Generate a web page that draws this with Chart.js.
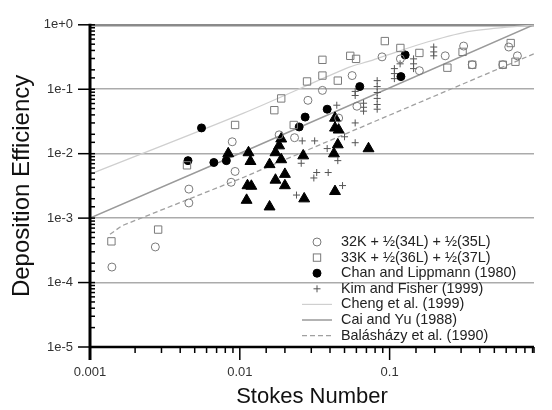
<!DOCTYPE html>
<html>
<head>
<meta charset="utf-8">
<script src="https://cdn.jsdelivr.net/npm/chart.js@4.4.1/dist/chart.umd.min.js"></script>
<style>
body { margin: 0; background: #fff; }
#wrap { width: 552px; height: 410px; position: relative; }
</style>
</head>
<body>
<div id="wrap"><canvas id="chartDep"></canvas></div>
<script>
// 32K + ½(34L) + ½(35L)  (open circles)
const stCirc = [0.0014, 0.00273, 0.00457, 0.00457, 0.0089, 0.0093, 0.00875, 0.0183, 0.0232, 0.0285, 0.0356, 0.0457, 0.0562, 0.0605, 0.089, 0.118, 0.158, 0.235, 0.312, 0.356, 0.57, 0.624, 0.713]
const deCirc = [1.74e-4, 3.57e-4, 2.82e-3, 1.72e-3, 0.0153, 0.0053, 0.0036, 0.0196, 0.0177, 0.0673, 0.096, 0.0357, 0.163, 0.0545, 0.318, 0.296, 0.194, 0.33, 0.468, 0.24, 0.24, 0.452, 0.33]

// 33K + ½(36L) + ½(37L)  (open squares)
const stSq = [0.00139, 0.00285, 0.00444, 0.0093, 0.017, 0.0189, 0.0229, 0.0281, 0.0356, 0.0356, 0.0451, 0.0546, 0.0597, 0.0929, 0.118, 0.158, 0.243, 0.307, 0.356, 0.57, 0.643, 0.692]
const deSq = [4.36e-4, 6.64e-4, 6.6e-3, 0.0279, 0.0473, 0.072, 0.0279, 0.132, 0.163, 0.286, 0.136, 0.33, 0.296, 0.559, 0.437, 0.366, 0.216, 0.38, 0.24, 0.24, 0.521, 0.267]

// Chan and Lippmann (1980)
const stChan = [0.00451, 0.00555, 0.00671, 0.00813, 0.0249, 0.0273, 0.0383, 0.0632, 0.119, 0.127]
const deChan = [0.0078, 0.0251, 0.0073, 0.0078, 0.026, 0.037, 0.049, 0.11, 0.157, 0.341]

// Kim and Fisher (1999)
const stKim = [0.0239, 0.0257, 0.0261, 0.0316, 0.0326, 0.0389, 0.0312, 0.0383, 0.0451, 0.0485, 0.05, 0.0589, 0.0589, 0.0444, 0.0589, 0.0589, 0.067, 0.067, 0.067, 0.0826, 0.0826, 0.0826, 0.0826, 0.0826, 0.0826, 0.1076, 0.1076, 0.1076, 0.1175, 0.1445, 0.1445, 0.1445, 0.197, 0.197, 0.197]
const deKim = [0.00228, 0.0071, 0.0158, 0.0158, 0.0051, 0.0051, 0.0042, 0.012, 0.0078, 0.0032, 0.0183, 0.0148, 0.030, 0.0565, 0.0925, 0.080, 0.0607, 0.0525, 0.0457, 0.136, 0.110, 0.089, 0.072, 0.058, 0.049, 0.209, 0.175, 0.146, 0.248, 0.296, 0.248, 0.209, 0.452, 0.38, 0.33]

// unlabelled triangles
const stTri = [0.00837, 0.01143, 0.01178, 0.01125, 0.01194, 0.0111, 0.0158, 0.0158, 0.0173, 0.0183, 0.0189, 0.0189, 0.0173, 0.02, 0.02, 0.0265, 0.0269, 0.0432, 0.0425, 0.0451, 0.0432, 0.0432, 0.0457, 0.0723]
const deTri = [0.01004, 0.0104, 0.0076, 0.0032, 0.00314, 0.0019, 0.0015, 0.0068, 0.0104, 0.0133, 0.017, 0.0081, 0.0039, 0.0048, 0.0032, 0.0093, 0.0020, 0.0026, 0.01, 0.0138, 0.0357, 0.0251, 0.0234, 0.012]

// model curves
const stCheng = [0.001, 0.0106, 0.0538, 0.0723, 0.093, 0.183, 0.35, 0.92]
const deCheng = [0.0048, 0.0426, 0.22, 0.27, 0.33, 0.55, 0.8, 1.0]
const stCai = [0.001, 0.0106, 0.92]
const deCai = [0.001, 0.0107, 1.0]
const stBal = [0.00136, 0.00163, 0.0106, 0.0837, 0.92]
const deBal = [5.6e-4, 7.6e-4, 0.0043, 0.0333, 0.355]

const pts = (xs, ys) => xs.map((x, i) => ({ x: x, y: ys[i] }))
const isDecade = v => Math.abs(Math.log10(v) - Math.round(Math.log10(v))) < 1e-6
const FONT = '"Liberation Sans", Arial, sans-serif'

const axesPlugin = {
    id: 'axesPlugin',
    afterDraw(chart) {
        const ctx = chart.ctx
        const { left, right, top, bottom } = chart.chartArea
        const xs = chart.scales.x
        const ys = chart.scales.y
        ctx.save()
        ctx.strokeStyle = '#000'
        ys.ticks.forEach(t => {
            const py = ys.getPixelForValue(t.value)
            ctx.lineWidth = 1.5
            ctx.beginPath()
            if (isDecade(t.value)) {
                ctx.moveTo(left - 12, py); ctx.lineTo(left + 5, py)
            } else {
                ctx.moveTo(left, py); ctx.lineTo(left + 5, py)
            }
            ctx.stroke()
        })
        xs.ticks.forEach(t => {
            if (t.value > xs.max) return
            const px = xs.getPixelForValue(t.value)
            ctx.lineWidth = 1.5
            ctx.beginPath()
            ctx.moveTo(px, bottom)
            ctx.lineTo(px, bottom + (isDecade(t.value) ? 13 : 6))
            ctx.stroke()
        })
        ctx.lineWidth = 2.5
        ctx.beginPath()
        ctx.moveTo(left - 1, bottom); ctx.lineTo(right, bottom)
        ctx.stroke()
        ctx.lineWidth = 3
        ctx.beginPath()
        ctx.moveTo(left, top - 1); ctx.lineTo(left, bottom + 13)
        ctx.stroke()
        ctx.restore()
    }
}

const legendPlugin = {
    id: 'legendInside',
    afterDraw(chart) {
        const ctx = chart.ctx
        ctx.save()
        ctx.font = '14.4px ' + FONT
        ctx.textBaseline = 'middle'
        ctx.textAlign = 'left'
        let row = 0
        chart.data.datasets.forEach(ds => {
            if (!ds.inLegend) return
            const y = 242 + row * 15.6
            const mx = 317
            ctx.strokeStyle = ds.borderColor
            ctx.fillStyle = ds.backgroundColor
            ctx.lineWidth = 1
            ctx.setLineDash([])
            if (ds.showLine) {
                ctx.lineWidth = ds.borderWidth
                ctx.setLineDash(ds.borderDash || [])
                ctx.beginPath()
                ctx.moveTo(302, y); ctx.lineTo(332, y)
                ctx.stroke()
                ctx.setLineDash([])
            } else if (ds.pointStyle === 'circle') {
                ctx.beginPath()
                ctx.arc(mx, y, ds.pointRadius, 0, Math.PI * 2)
                ctx.fill()
                ctx.stroke()
            } else if (ds.pointStyle === 'rect') {
                const s = ds.pointRadius * Math.SQRT1_2
                ctx.strokeRect(mx - s, y - s, 2 * s, 2 * s)
            } else if (ds.pointStyle === 'cross') {
                const r = ds.pointRadius
                ctx.beginPath()
                ctx.moveTo(mx - r, y); ctx.lineTo(mx + r, y)
                ctx.moveTo(mx, y - r); ctx.lineTo(mx, y + r)
                ctx.stroke()
            }
            ctx.fillStyle = '#222'
            ctx.fillText(ds.label, 341, y)
            row++
        })
        ctx.restore()
    }
}

const canvas = document.getElementById('chartDep')
const chartDep = new Chart(canvas.getContext('2d'), {
    type: 'scatter',
    data: {
        datasets: [
            {
                label: '32K + ½(34L) + ½(35L)',
                data: pts(stCirc, deCirc),
                pointStyle: 'circle', pointRadius: 4,
                borderColor: '#7a7a7a', backgroundColor: 'rgba(255,255,255,0)', borderWidth: 1,
                inLegend: true
            },
            {
                label: '33K + ½(36L) + ½(37L)',
                data: pts(stSq, deSq),
                pointStyle: 'rect', pointRadius: 5.2,
                borderColor: '#7a7a7a', backgroundColor: 'rgba(255,255,255,0)', borderWidth: 1,
                inLegend: true
            },
            {
                label: 'Chan and Lippmann (1980)',
                data: pts(stChan, deChan),
                pointStyle: 'circle', pointRadius: 4,
                borderColor: '#000', backgroundColor: '#000', borderWidth: 1,
                inLegend: true
            },
            {
                label: 'Kim and Fisher (1999)',
                data: pts(stKim, deKim),
                pointStyle: 'cross', pointRadius: 3.5,
                borderColor: '#555', backgroundColor: '#555', borderWidth: 1,
                inLegend: true
            },
            {
                label: 'triangles',
                data: pts(stTri, deTri),
                pointStyle: 'triangle', pointRadius: 6.3,
                borderColor: '#000', backgroundColor: '#000', borderWidth: 1,
                inLegend: false
            },
            {
                label: 'Cheng et al. (1999)',
                data: pts(stCheng, deCheng),
                showLine: true, pointRadius: 0, borderColor: '#cfcfcf', borderWidth: 1.2,
                backgroundColor: '#cfcfcf', tension: 0.3,
                inLegend: true
            },
            {
                label: 'Cai and Yu (1988)',
                data: pts(stCai, deCai),
                showLine: true, pointRadius: 0, borderColor: '#9a9a9a', borderWidth: 1.5,
                backgroundColor: '#9a9a9a',
                inLegend: true
            },
            {
                label: 'Balásházy et al. (1990)',
                data: pts(stBal, deBal),
                showLine: true, pointRadius: 0, borderColor: '#a0a0a0', borderWidth: 1.3,
                borderDash: [5, 3], backgroundColor: '#a0a0a0',
                inLegend: true
            }
        ]
    },
    options: {
        responsive: true,
        maintainAspectRatio: false,
        devicePixelRatio: 1,
        animation: false,
        layout: { padding: { top: 20, right: 0, left: 0, bottom: 0 } },
        plugins: { legend: { display: false }, tooltip: { enabled: false } },
        scales: {
            x: {
                type: 'logarithmic',
                min: 0.001,
                max: 0.92,
                afterFit: scale => { scale.height = 63 },
                grid: { display: false, drawTicks: false },
                border: { display: false },
                ticks: {
                    autoSkip: false,
                    maxRotation: 0,
                    padding: 18,
                    color: '#333',
                    font: { family: FONT, size: 13 },
                    callback: v => isDecade(v) ? String(v) : ''
                },
                title: {
                    display: true,
                    text: 'Stokes Number',
                    color: '#111',
                    font: { family: FONT, size: 22 },
                    padding: { top: 0, bottom: 0 }
                }
            },
            y: {
                type: 'logarithmic',
                min: 1e-5,
                max: 1,
                afterFit: scale => { scale.width = 90 },
                grid: {
                    drawTicks: false,
                    color: c => c.tick && isDecade(c.tick.value) ? (c.tick.value === 1 ? '#8a8a8a' : '#ababab') : 'rgba(0,0,0,0)',
                    lineWidth: c => c.tick && c.tick.value === 1 ? 2.5 : 1.5
                },
                border: { display: false },
                ticks: {
                    autoSkip: false,
                    padding: 17,
                    color: '#333',
                    font: { family: FONT, size: 13 },
                    callback: v => isDecade(v) ? v.toExponential(0) : ''
                },
                title: {
                    display: true,
                    text: 'Deposition Efficiency',
                    color: '#111',
                    font: { family: FONT, size: 24 },
                    padding: { top: 8, bottom: 0 }
                }
            }
        }
    },
    plugins: [axesPlugin, legendPlugin]
})
</script>
</body>
</html>
